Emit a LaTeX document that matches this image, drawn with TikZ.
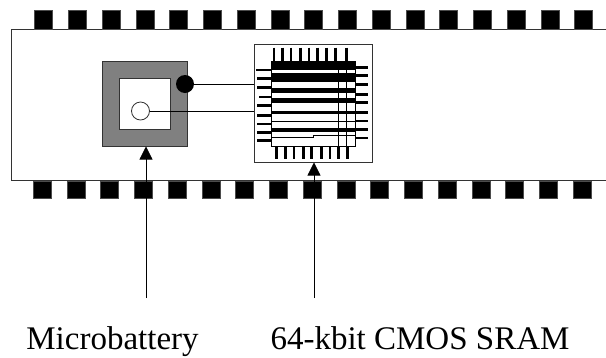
\documentclass[tikz,border=0pt]{standalone}
\usepackage{fontspec}
\setmainfont{Liberation Serif}
\usetikzlibrary{arrows.meta}
\begin{document}
\begin{tikzpicture}[
        x=1pt, y=-1pt,
        outline/.style={draw=black!80, line width=1pt},
        square/.style={outline, inner sep=0pt, minimum size=#1},
        pin/.style={fill=black, draw=black!70, line width=0.4pt},
        leg/.style={line width=2.6pt},
        band/.style={fill=black},
        pointer/.style={line width=0.8pt, -{Triangle[length=13pt, width=13pt]}},
        caption/.style={font=\fontsize{33}{35}\selectfont, anchor=base, inner sep=0pt}
      ]
      \useasboundingbox (0,0) rectangle (606,357);
      \draw[outline] (606,29) -- (11,29) -- (11,180) -- (606,180);
      \foreach \i in {0,...,16} {
        \path[pin] (34.5+33.75*\i,10.5) rectangle ++(18,18.5);
        \path[pin] (33+33.75*\i,181) rectangle ++(18,17);
      }
      \node[square=85pt, fill=black!50] (battery) at (144.5,103.5) {};
      \node[square=51pt, fill=white] (cell) at (144.5,103.5) {};
      \node[square=118pt, fill=white] (sram) at (313,103) {};
      \node[circle, draw=black!80, line width=0.8pt, fill=white, inner sep=0pt, minimum size=18pt] (minus) at (140.5,111) {};
      \node[circle, fill=black, inner sep=0pt, minimum size=18pt] (plus) at (185,84) {};
      \draw[line width=0.8pt] (plus) -- (plus -| sram.west);
      \draw[line width=0.8pt] (minus) -- (minus -| sram.west);
      % die
      \draw[line width=0.8pt] (271,61) rectangle (355,146);
      \foreach \top/\bottom in {61/70, 72.7/82.3, 87.7/93.3, 98.3/103.3, 110.7/114.3, 121/122.3, 127.7/131.7} {
        \fill[band] (271,\top) rectangle (355,\bottom);
      }
      \draw[line width=0.8pt] (271,137.7) -- (313,137.7) -- (313,135) -- (355,135);
      \foreach \px in {338.3,346.7} {
        \draw[line width=0.8pt] (\px,70) -- (\px,146);
      }
      % legs
      \foreach \px in {274,282.7,291,300.7,309,317.3,326.7,335.3,346.7} {
        \draw[leg] (\px,47.7) -- (\px,61);
      }
      \foreach \px in {276.7,285.7,294,303.3,311.7,321.7,330,338.3,347.3} {
        \draw[leg] (\px,146) -- (\px,159);
      }
      \foreach \py/\px in {70/256,78.3/257.3,87.3/257.3,97/259,105.7/257.3,115.3/257.3,124/257.3,132.7/257.3,140.7/257.3} {
        \draw[leg] (\px,\py) -- (271,\py);
      }
      \foreach \py in {67.3,75.7,84.3,94.3,102.7,112.3,121,129.7,138} {
        \draw[leg] (355,\py) -- (368,\py);
      }
      \node[caption] (microbattery) at (112.5,349) {Microbattery};
      \node[caption] (sramlabel) at (420,349) {64-kbit CMOS SRAM};
      \coordinate (batterytail) at (146,298);
      \coordinate (sramtail) at (314,298);
      \draw[pointer] (batterytail) -- (batterytail |- battery.south);
      \draw[pointer] (sramtail) -- (sramtail |- sram.south);
    \end{tikzpicture}
\end{document}
